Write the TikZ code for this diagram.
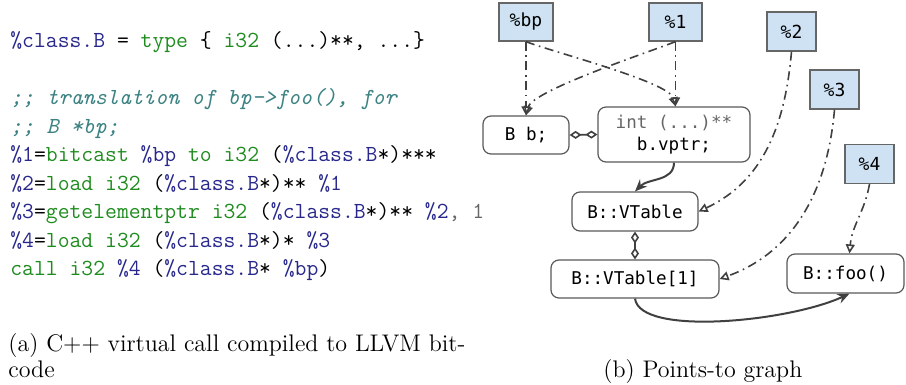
\documentclass[tikz,border=0pt]{standalone}
\usepackage{fontspec}
\usetikzlibrary{arrows.meta}
\newfontfamily\gfont{DejaVu Sans Mono}
\definecolor{codeblue}{RGB}{40,40,140}
\definecolor{codegreen}{RGB}{30,140,30}
\definecolor{codecomment}{RGB}{60,130,130}
\definecolor{varfill}{RGB}{207,226,243}
\definecolor{edgecol}{RGB}{64,64,64}
\newcommand\cb[1]{\textcolor{codeblue}{#1}}
\newcommand\cgr[1]{\textcolor{codegreen}{#1}}
\newcommand\ccm[1]{\textcolor{codecomment}{\itshape #1}}
\tikzset{
  codeline/.style={anchor=base west, inner sep=0pt, font=\fontsize{11.5}{14}\ttfamily},
  capline/.style={anchor=base west, inner sep=0pt, font=\fontsize{12}{14}\selectfont},
  varbox/.style={draw=black!60, fill=varfill, line width=0.6pt, inner sep=0pt,
    font=\fontsize{9}{10}\gfont},
  objbox/.style={draw=black!65, fill=white, rounded corners=4pt, line width=0.6pt, inner sep=0pt,
    font=\fontsize{8.8}{11}\gfont, align=center},
  ptsto/.style={draw=edgecol, line width=0.8pt,
    dash pattern=on 4.5pt off 2.3pt on 0.8pt off 2.3pt,
    -{Triangle[open,length=4.5pt,width=4.5pt]}},
  solidarr/.style={draw=edgecol, line width=1pt, -{Stealth[length=6pt,width=5pt]}},
  comp/.style={draw=edgecol, line width=0.8pt,
    {Diamond[open,length=6pt,width=4pt]}-{Diamond[open,length=6pt,width=4pt]}}
}
\begin{document}
\begin{tikzpicture}[x=0.5pt,y=-0.5pt]
\useasboundingbox (0,0) rectangle (906,385);
% code
\node[codeline] (l1) at (10,48) {\cb{\%class.B} = \cgr{type} \{ \cgr{i32} (...)**, ...\}};
\node[codeline] (l3) at (10,105) {\ccm{;; translation of bp->foo(), for}};
\node[codeline] (l4) at (10,133.5) {\ccm{;; B *bp;}};
\node[codeline] (l5) at (10,162) {\cb{\%1}=\cgr{bitcast} \cb{\%bp} \cgr{to i32} (\cb{\%class.B}*)***};
\node[codeline] (l6) at (10,190.5) {\cb{\%2}=\cgr{load i32} (\cb{\%class.B}*)** \cb{\%1}};
\node[codeline] (l7) at (10,219) {\cb{\%3}=\cgr{getelementptr i32} (\cb{\%class.B}*)** \cb{\%2}\textcolor{black!60}{, 1}};
\node[codeline] (l8) at (10,247.5) {\cb{\%4}=\cgr{load i32} (\cb{\%class.B}*)* \cb{\%3}};
\node[codeline] (l9) at (10,276) {\cgr{call i32} \cb{\%4} (\cb{\%class.B}* \cb{\%bp})};
% captions
\node[capline] (ca1) at (8,351) {(a) C++ virtual call compiled to LLVM bit-};
\node[capline] (ca2) at (8,377) {code};
\node[capline] (cb1) at (603,377) {(b) Points-to graph};
% graph nodes
\node[varbox, minimum width=27pt, minimum height=19pt] (bp) at (526,22) {\%bp};
\node[varbox, minimum width=26.5pt, minimum height=19pt] (v1) at (675.5,22) {\%1};
\node[varbox, minimum width=24.5pt, minimum height=19.5pt] (v2) at (791.5,31.5) {\%2};
\node[varbox, minimum width=24.5pt, minimum height=19.5pt] (v3) at (834.5,89.5) {\%3};
\node[varbox, minimum width=24.5pt, minimum height=19.5pt] (v4) at (869.5,164) {\%4};
\node[objbox, minimum width=43pt, minimum height=19pt] (bb) at (526,135) {B b;};
\node[objbox, minimum width=76pt, minimum height=27.5pt] (vptr) at (674,134.5) {\textcolor{black!60}{int (...)**}\\b.vptr;};
\node[objbox, minimum width=63pt, minimum height=19.5pt] (vt) at (635,211.5) {B::VTable};
\node[objbox, minimum width=84pt, minimum height=19pt] (vt1) at (635,279) {B::VTable[1]};
\node[objbox, minimum width=58.5pt, minimum height=19.5pt] (foo) at (845.5,273.5) {B::foo()};
% points-to edges
\draw[ptsto] (bp.south) -- (bb.north);
\draw[ptsto] (v1.south) -- (vptr.north -| v1.south);
\draw[ptsto] (bp.south) to[out=-22,in=105,looseness=0.4] (vptr.north -| v1.south);
\draw[ptsto] (v1.south) to[out=-158,in=75,looseness=0.4] (bb.north);
\draw[ptsto] (v2.south) to[out=-95,in=25] (vt.east);
\draw[ptsto] (v3.south) to[out=-95,in=20] (vt1.east);
\draw[ptsto] (v4.south) to[out=-100,in=85] ([xshift=2pt]foo.north);
% composition
\draw[comp] (bb.east) -- (vptr.west);
\draw[comp] (vt.south) -- (vt1.north);
% solid
\draw[solidarr] (vptr.south) to[out=-90,in=45] (vt.north);
\draw[solidarr] (vt1.south) .. controls +(5,38) and +(-60,28) .. ([xshift=2pt]foo.south);
\end{tikzpicture}
\end{document}
